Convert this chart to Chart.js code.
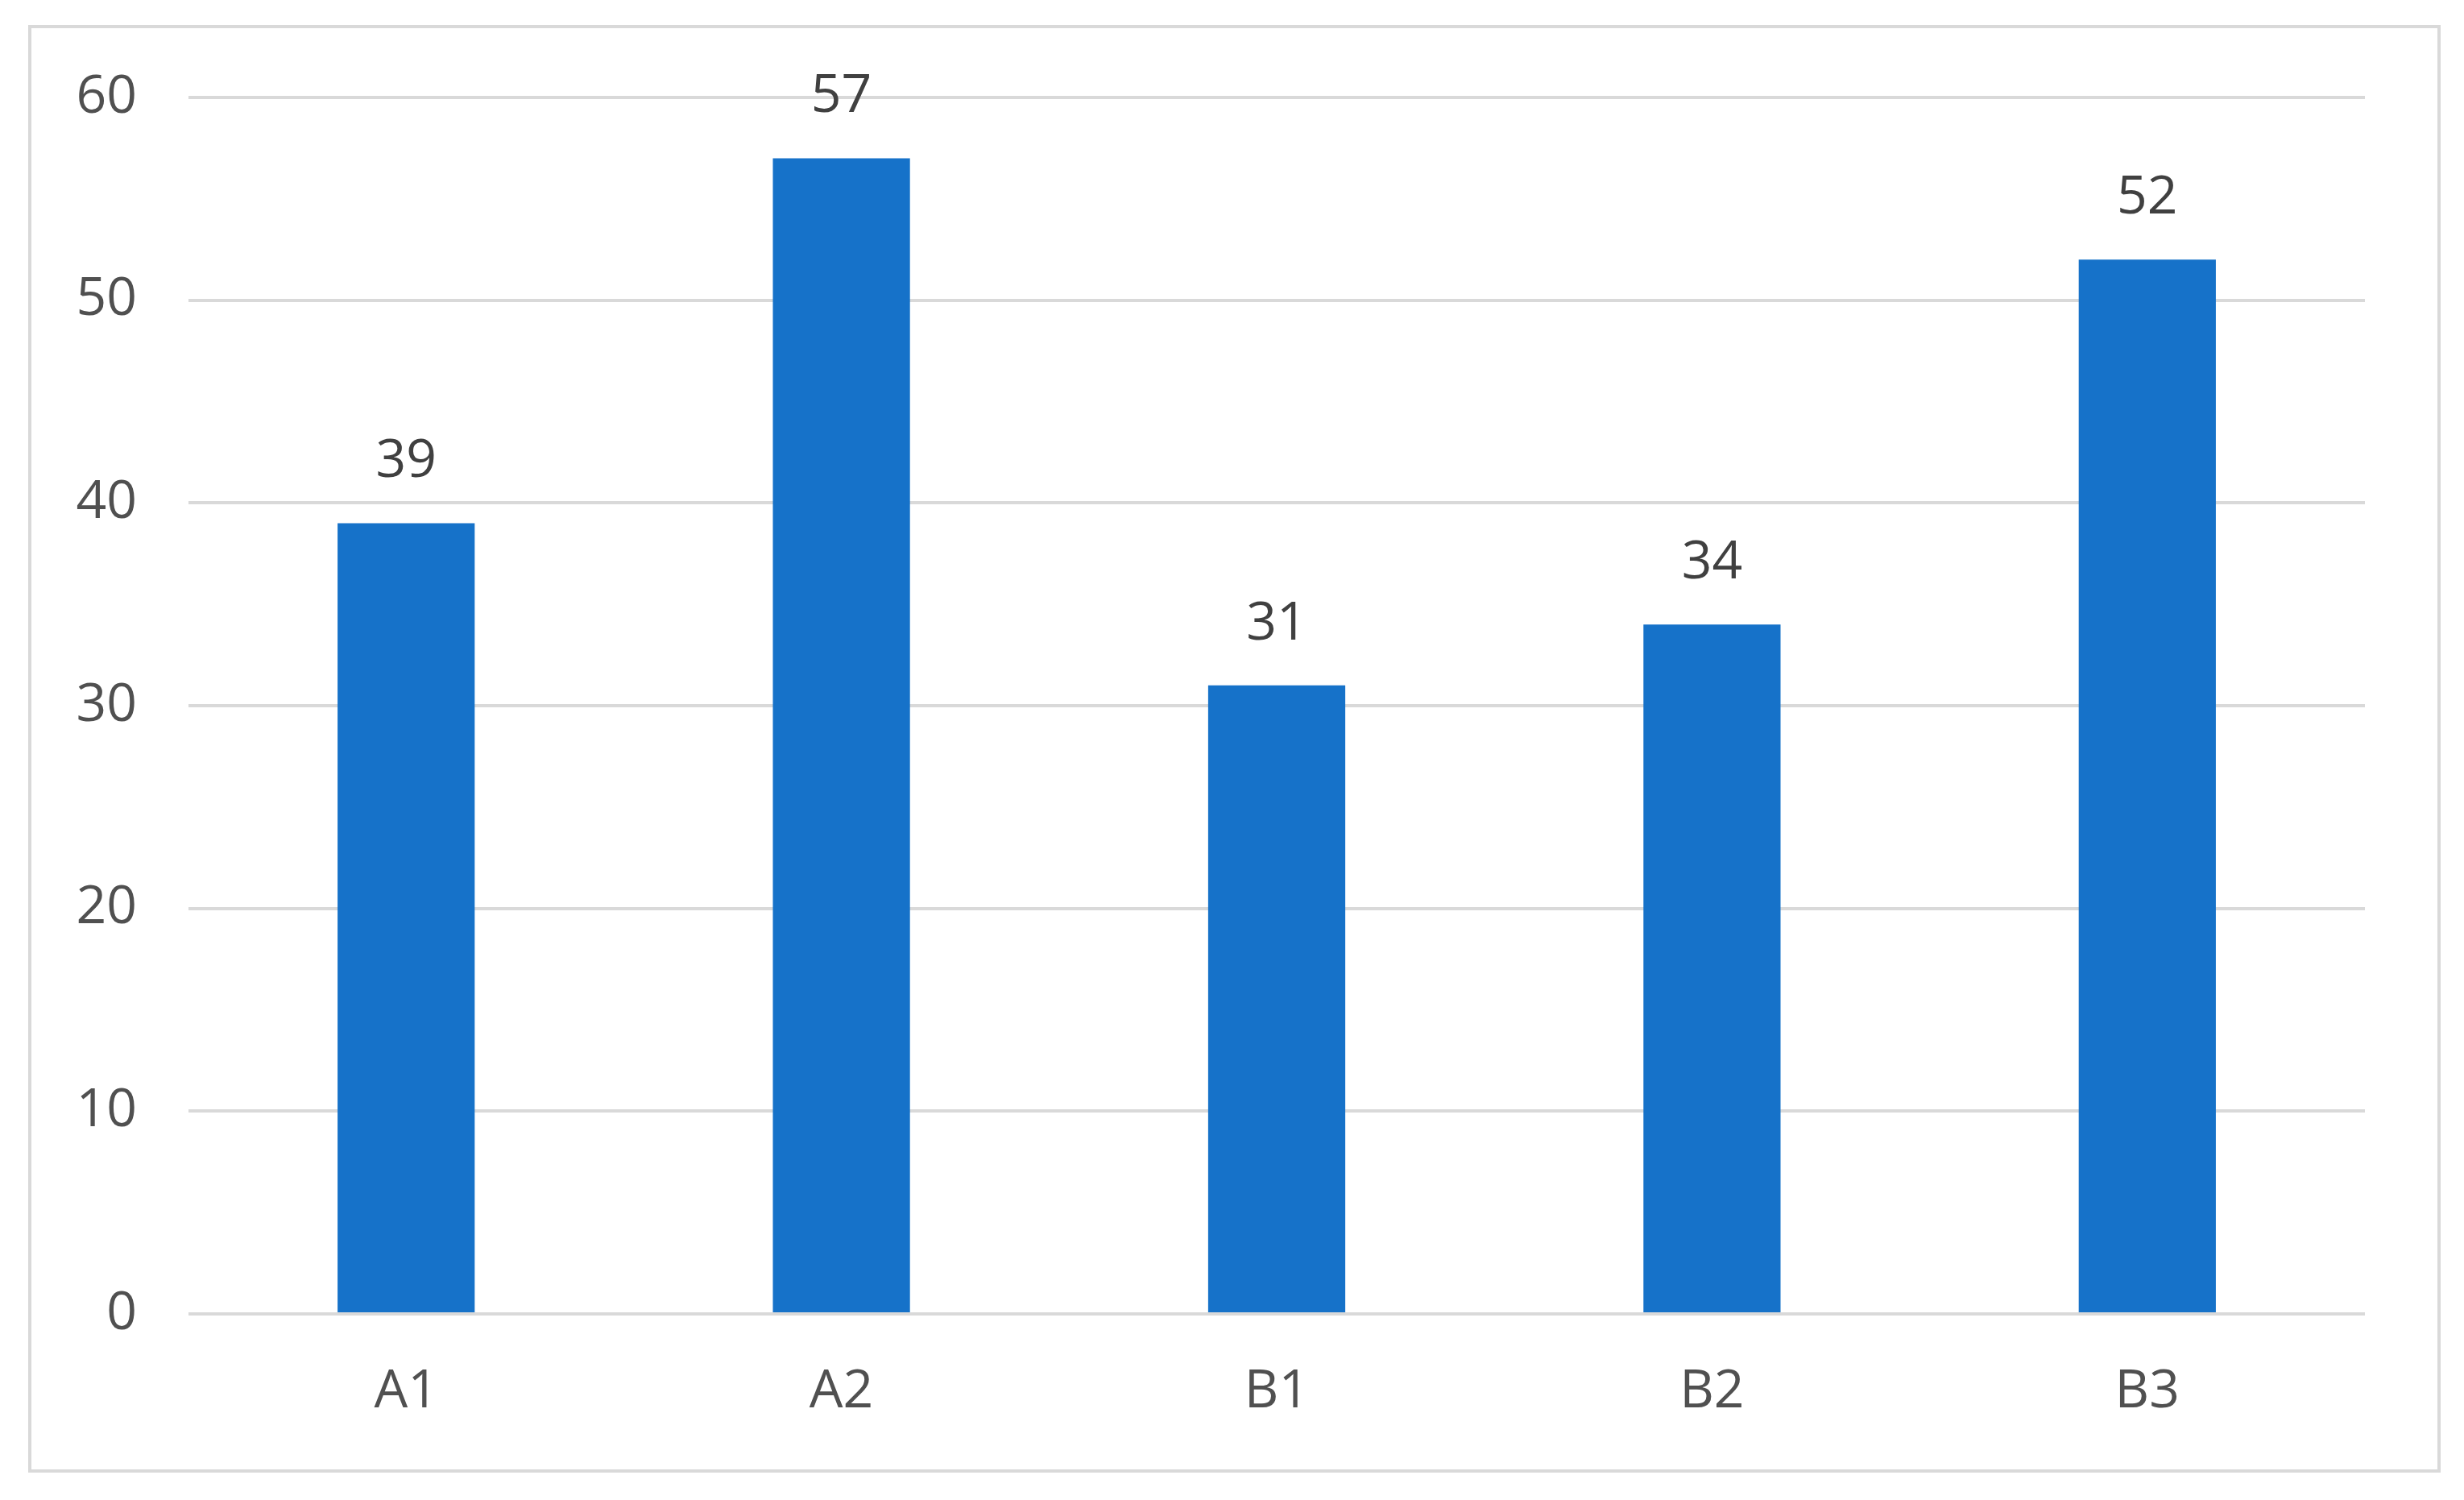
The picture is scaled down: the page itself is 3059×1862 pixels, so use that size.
<!DOCTYPE html>
<html>
<head>
<meta charset="utf-8">
<script src="https://cdn.jsdelivr.net/npm/chart.js@4/dist/chart.umd.min.js"></script>
<style>
  html, body { margin: 0; padding: 0; background: #ffffff; }
  #frame { position: absolute; left: 35px; top: 31px; width: 2995px; height: 1797px; border: 4px solid #d9d9d9; box-sizing: border-box; }
  canvas { position: absolute; left: 0; top: 0; }
</style>
</head>
<body>
<div id="frame"></div>
<canvas id="c" width="3059" height="1862"></canvas>
<script>
const categories = ["A1", "A2", "B1", "B2", "B3"];
const values = [39, 57, 31, 34, 52];
const yTicks = [0, 10, 20, 30, 40, 50, 60];

const FONT = "'Open Sans', 'Liberation Sans', sans-serif";

const valueLabels = {
  id: 'valueLabels',
  afterDatasetsDraw(chart) {
    const ctx = chart.ctx;
    const meta = chart.getDatasetMeta(0);
    ctx.save();
    ctx.font = "66px " + FONT;
    ctx.fillStyle = "#404040";
    ctx.textAlign = "center";
    ctx.textBaseline = "middle";
    meta.data.forEach((bar, i) => {
      ctx.fillText(String(chart.data.datasets[0].data[i]), bar.x, bar.y - 76);
    });
    ctx.restore();
  }
};

new Chart(document.getElementById('c'), {
  type: 'bar',
  data: {
    labels: categories,
    datasets: [{
      data: values,
      backgroundColor: '#1672c9',
      borderWidth: 0,
      barPercentage: 0.315,
      categoryPercentage: 1.0
    }]
  },
  options: {
    responsive: false,
    animation: false,
    devicePixelRatio: 1,
    layout: { padding: { top: 121, right: 123, bottom: 0, left: 0 } },
    plugins: { legend: { display: false }, tooltip: { enabled: false } },
    scales: {
      x: {
        grid: { display: false, drawTicks: false },
        border: { display: false },
        ticks: { color: '#505050', font: { family: FONT, size: 66 }, padding: 58 },
        afterFit(axis) { axis.height = 231; }
      },
      y: {
        min: 0, max: 60,
        afterBuildTicks(axis) { axis.ticks = yTicks.map(v => ({ value: v })); },
        grid: { color: '#d9d9d9', lineWidth: 4, drawTicks: false },
        border: { display: false },
        ticks: { color: '#505050', font: { family: FONT, size: 66 }, padding: 64 },
        afterFit(axis) { axis.width = 234; }
      }
    }
  },
  plugins: [valueLabels]
});
</script>
</body>
</html>
